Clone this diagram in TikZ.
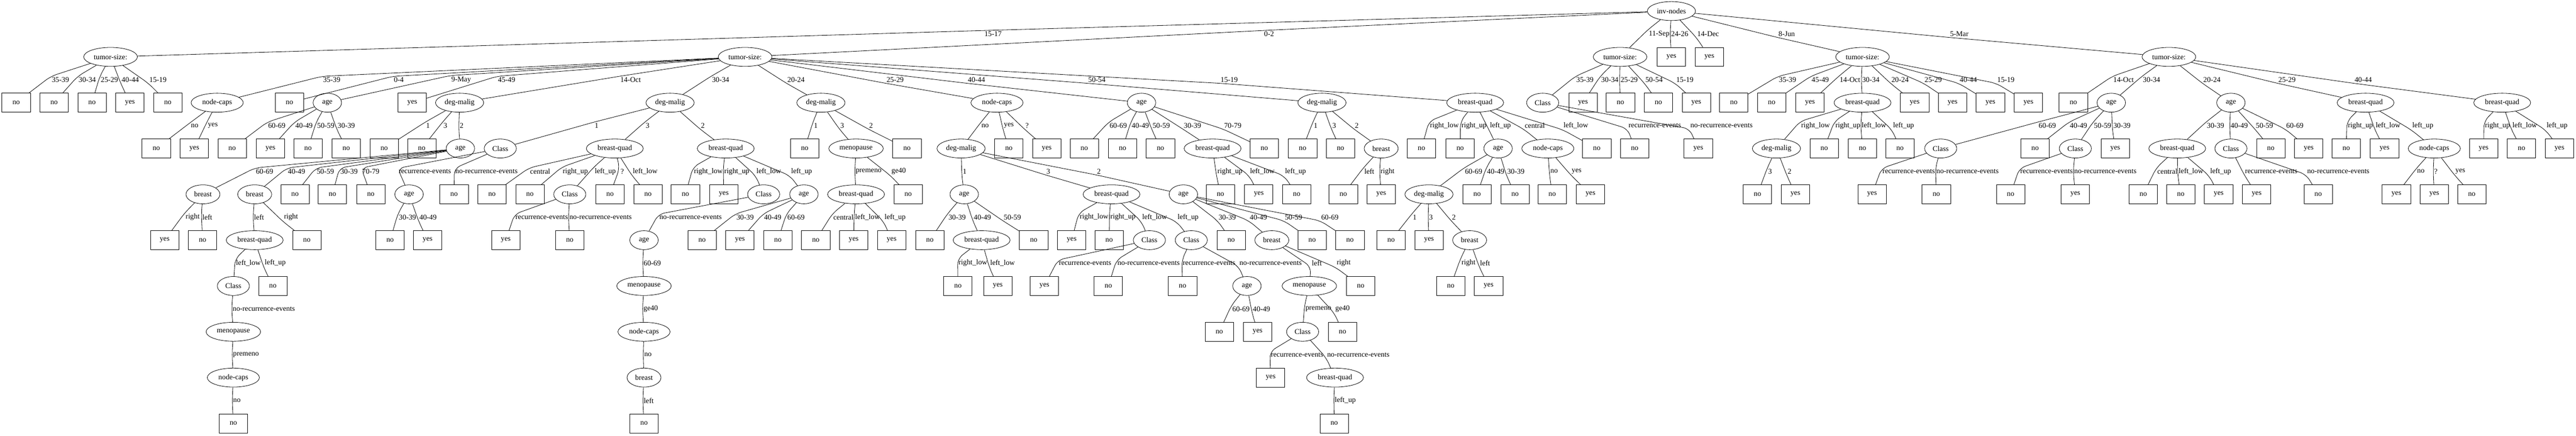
\documentclass[tikz,border=0pt]{standalone}
\usepackage{fontspec}
\setmainfont{Liberation Serif}
\usetikzlibrary{shapes.geometric, calc}

\tikzset{
  attr/.style = {draw, ellipse, minimum height=36pt, inner sep=0pt},
  tsize/.style = {attr, minimum width=102pt},
  invn/.style = {attr, minimum width=91.5pt},
  agen/.style = {attr, minimum width=54pt},
  dmal/.style = {attr, minimum width=91.5pt},
  ncaps/.style = {attr, minimum width=99pt},
  bquad/.style = {attr, minimum width=108pt},
  clss/.style = {attr, minimum width=61pt},
  brst/.style = {attr, minimum width=64.5pt},
  meno/.style = {attr, minimum width=103.5pt},
  leaf/.style = {draw, rectangle, minimum width=54pt, minimum height=36pt, inner sep=0pt},
  elabel/.style = {inner sep=1.5pt}
}

\begin{document}
\begin{tikzpicture}[x=0.75pt, y=-87pt, line width=0.8pt,
    font=\fontsize{14pt}{16pt}\selectfont]
  \useasboundingbox (0,-0.2414) rectangle (6524,9.2672);

  % tests
  \node[invn] (t) at (4233,0) {inv-nodes};
  \foreach \nm/\px/\rw in {a/280/1, b/1887/1, c/4103/1, d/4717/1, e/5493/1}
    \node[tsize] (\nm) at (\px,\rw) {tumor-size:};
  \foreach \nm/\px/\rw in {b3/829/2, b9/2891/2, e2/5347/2, e3/5650/2, b5c/1166/3,
      b11c/3794/3, b6a1/1036/4, b6c4/2036/4, b8a1/2442/4, b8a3/2997/4,
      b6c3a/1631/5, b8a2d2/3158/6}
    \node[agen] (\nm) at (\px,\rw) {age};
  \foreach \nm/\px/\rw in {b5/1164/2, b6/1697/2, b7/2079/2, b10/3348/2, b8a/2434/3,
      d4a/4499/3, b11c1/3619/4}
    \node[dmal] (\nm) at (\px,\rw) {deg-malig};
  \foreach \nm/\px/\rw in {b1/550/2, b8/2525/2, b11d/3920/3, e4c/6165/3, n2/1631/7, m1/591/8}
    \node[ncaps] (\nm) at (\px,\rw) {node-caps};
  \foreach \nm/\px/\rw in {b11/3736/2, d4/4717/2, e4/5991/2, e5/6337/2, b6b/1557/3,
      b6c/1838/3, b9d/3071/3, e3a/5514/3, b7b1/2168/4, b8a2/2815/4, b5c2a/645/5,
      b8a1b/2486/5, q3/3381/8}
    \node[bquad] (\nm) at (\px,\rw) {breast-quad};
  \foreach \nm/\px/\rw in {c1/3907/2, b6a/1267/3, e2a/4915/3, e2c/5256/3, e3b/5650/3,
      b6b3/1443/4, b6c3/1934/4, b8a2c/2911/5, b8a2d/3017/5, k1/591/6, k3/3299/7}
    \node[clss] (\nm) at (\px,\rw) {Class};
  \foreach \nm/\px/\rw in {b10c/3498/3, b5c1/514/4, b5c2/645/4, b8a3b/3221/5,
      b11c1c/3722/5, br2/1631/8}
    \node[brst] (\nm) at (\px,\rw) {breast};
  \foreach \nm/\px/\rw in {b7b/2168/3, mp2/1631/6, mp3/3316/6, mp1/591/7}
    \node[meno] (\nm) at (\px,\rw) {menopause};

  % leaves
  \foreach \nm/\px/\rw in {a1/41/2, a2/137/2, a3/233/2, a5/425/2, b2/733/2, c3/4104/2,
      c4/4200/2, d1/4391/2, d2/4487/2, e1/5251/2,
      b1a/396/3, b3a/588/3, b3c/780/3, b3d/877/3, b5a/973/3, b5b/1068/3, b7a/2038/3,
      b7c/2297/3, b8b/2555/3, b9a/2746/3, b9b/2843/3, b9c/2939/3, b9e/3202/3,
      b10a/3299/3, b10b/3395/3, b11a/3600/3, b11b/3698/3, b11e/4044/3, c1a/4140/3,
      d4b/4620/3, d4c/4717/3, d4d/4812/3, e2b/5154/3, e3c/5751/3, e4a/5942/3, e5b/6386/3,
      b5c3/747/4, b5c4/842/4, b5c5/939/4, b6a2/1150/4, b6b1/1246/4, b6b2/1342/4,
      b6b4/1545/4, b6b5/1641/4, b6c1/1736/4, b7b2/2300/4, b9d1/3091/4, b9d3/3284/4,
      b10c1/3402/4, b11c2/3741/4, b11c3/3837/4, b11d1/3931/4, d4a1/4451/4, e2a2/4904/4,
      e2c1/5092/4, e3a1/5428/4, e3a2/5523/4, e3b2/5871/4, e4c3/6260/4,
      b5c1b/513/5, b5c2b/777/5, b6a1a/988/5, b6b3b/1443/5, b6c4a/1778/5, b6c4c/1970/5,
      b7b1a/2066/5, b8a1a/2355/5, b8a1c/2618/5, b8a2b/2809/5, b8a3a/3118/5,
      b8a3c/3323/5, b8a3d/3419/5, b11c1a/3523/5,
      b5c2a2/691/6, b8a1b1/2426/6, b8a2c2/2807/6, b8a2d1/2995/6, b8a3b2/3446/6,
      b11c1c1/3674/6, b8a2d2a/3088/7, mp3b/3400/7, z1/591/9, z2/1631/9, z3/3379/9}
    \node[leaf] (\nm) at (\px,\rw) {no};
  \foreach \nm/\px/\rw in {y1/4233/1, y2/4329/1,
      a4/329/2, b4/1044/2, c2/4009/2, c5/4296/2, d3/4584/2, d5/4849/2, d6/4945/2,
      d7/5041/2, d8/5137/2,
      b1b/492/3, b3b/685/3, b8c/2651/3, c1b/4301/3, e2d/5357/3, e3d/5847/3, e4b/6039/3,
      e5a/6290/3, e5c/6482/3,
      b6c2/1833/4, b9d2/3188/4, b10c2/3498/4, b11d2/4028/4, d4a2/4547/4, e2a1/4741/4,
      e2c2/5256/4, e3a3/5619/4, e3b1/5715/4, e4c1/6069/4, e4c2/6165/4,
      b5c1a/417/5, b6a1b/1083/5, b6b3a/1281/5, b6c4b/1874/5, b7b1b/2162/5, b7b1c/2258/5,
      b8a2a/2714/5, b11c1b/3619/5,
      b8a1b2/2527/6, b8a2c1/2645/6, b11c1c2/3770/6, b8a2d2b/3185/7, k3a/3218/8}
    \node[leaf] (\nm) at (\px,\rw) {yes};

  % branches: parent/child/label x/label
  \foreach \pa/\ch/\lx/\lt in {
      t/a/2515/15-17, t/b/3214/0-2, t/c/4202/11-Sep, t/y1/4254/24-26,
      t/y2/4326/14-Dec, t/d/4525/8-Jun, t/e/4962/5-Mar,
      a/a1/153/35-39, a/a2/221/30-34, a/a3/277/25-29, a/a4/330/40-44, a/a5/400/15-19,
      b/b1/840/35-39, b/b2/1010/0-4, b/b3/1168/9-May, b/b4/1283/45-49,
      b/b5/1597/14-Oct, b/b6/1825/30-34, b/b7/2016/20-24, b/b8/2267/25-29,
      b/b9/2473/40-44, b/b10/2778/50-54, b/b11/3113/15-19,
      c/c1/4014/35-39, c/c2/4077/30-34, c/c3/4126/25-29, c/c4/4189/50-54, c/c5/4267/15-19,
      d/d1/4527/35-39, d/d2/4610/45-49, d/d3/4685/14-Oct, d/d4/4738/30-34,
      d/d5/4812/20-24, d/d6/4896/25-29, d/d7/4985/40-44, d/d8/5080/15-19,
      e/e1/5378/14-Oct, e/e2/5449/30-34, e/e3/5602/20-24, e/e4/5792/25-29, e/e5/5985/40-44,
      b1/b1a/493/no, b1/b1b/539/yes,
      b3/b3a/701/60-69, b3/b3b/770/40-49, b3/b3c/825/50-59, b3/b3d/877/30-39,
      b5/b5a/1084/1, b5/b5b/1128/3, b5/b5c/1169/2,
      b6/b6a/1511/1, b6/b6b/1640/3, b6/b6c/1780/2,
      b7/b7a/2066/1, b7/b7b/2133/3, b7/b7c/2206/2,
      b8/b8a/2495/no, b8/b8b/2555/yes, b8/b8c/2601/?,
      b9/b9a/2832/60-69, b9/b9b/2888/40-49, b9/b9c/2941/50-59, b9/b9d/3020/30-39,
      b9/b9e/3122/70-79,
      b10/b10a/3332/1, b10/b10b/3379/3, b10/b10c/3436/2,
      b11/b11a/3658/right\_low, b11/b11b/3733/right\_up, b11/b11c/3800/left\_up,
      b11/b11d/3887/central, b11/b11e/3991/left\_low,
      c1/c1a/4191/recurrence-events, c1/c1b/4360/no-recurrence-events,
      d4/d4a/4598/right\_low, d4/d4b/4680/right\_up, d4/d4c/4746/left\_low,
      d4/d4d/4821/left\_up,
      e2/e2a/5185/60-69, e2/e2b/5264/40-49, e2/e2c/5325/50-59, e2/e2d/5374/30-39,
      e3/e3a/5611/30-39, e3/e3b/5671/40-49, e3/e3c/5735/50-59, e3/e3d/5812/60-69,
      e4/e4a/5978/right\_up, e4/e4b/6048/left\_low, e4/e4c/6136/left\_up,
      e5/e5a/6325/right\_up, e5/e5b/6394/left\_low, e5/e5c/6476/left\_up,
      b5c/b5c1/670/60-69, b5c/b5c2/751/40-49, b5c/b5c3/824/50-59, b5c/b5c4/884/30-39,
      b5c/b5c5/939/70-79,
      b6a/b6a1/1076/recurrence-events, b6a/b6a2/1232/no-recurrence-events,
      b6b/b6b1/1368/central, b6b/b6b2/1457/right\_up, b6b/b6b3/1533/left\_up,
      b6b/b6b4/1576/?, b6b/b6b5/1634/left\_low,
      b6c/b6c1/1794/right\_low, b6c/b6c2/1866/right\_up, b6c/b6c3/1947/left\_low,
      b6c/b6c4/2030/left\_up,
      b7b/b7b1/2200/premeno, b7b/b7b2/2276/ge40,
      b8a/b8a1/2443/1, b8a/b8a2/2655/3, b8a/b8a3/2783/2,
      b9d/b9d1/3115/right\_up, b9d/b9d2/3197/left\_low, b9d/b9d3/3281/left\_up,
      b10c/b10c1/3468/left, b10c/b10c2/3514/right,
      b11c/b11c1/3732/60-69, b11c/b11c2/3788/40-49, b11c/b11c3/3839/30-39,
      b11d/b11d1/3936/no, b11d/b11d2/3993/yes,
      d4a/d4a1/4483/3, d4a/d4a2/4532/2,
      e2a/e2a1/4834/recurrence-events, e2a/e2a2/4983/no-recurrence-events,
      e2c/e2c1/5183/recurrence-events, e2c/e2c2/5332/no-recurrence-events,
      e3a/e3a1/5489/central, e3a/e3a2/5549/left\_low, e3a/e3a3/5624/left\_up,
      e3b/e3b1/5752/recurrence-events, e3b/e3b2/5922/no-recurrence-events,
      e4c/e4c1/6131/no, e4c/e4c2/6169/?, e4c/e4c3/6231/yes,
      b5c1/b5c1a/488/right, b5c1/b5c1b/525/left,
      b5c2/b5c2a/656/left, b5c2/b5c2b/737/right,
      b6a1/b6a1a/1032/30-39, b6a1/b6a1b/1084/40-49,
      b6b3/b6b3a/1372/recurrence-events, b6b3/b6b3b/1521/no-recurrence-events,
      b6c3/b6c3a/1749/no-recurrence-events,
      b6c4/b6c4a/1887/30-39, b6c4/b6c4b/1957/40-49, b6c4/b6c4c/2016/60-69,
      b7b1/b7b1a/2136/central, b7b1/b7b1b/2197/left\_low, b7b1/b7b1c/2267/left\_up,
      b8a1/b8a1a/2424/30-39, b8a1/b8a1b/2488/40-49, b8a1/b8a1c/2564/50-59,
      b8a2/b8a2a/2771/right\_low, b8a2/b8a2b/2844/right\_up, b8a2/b8a2c/2924/left\_low,
      b8a2/b8a2d/3009/left\_up,
      b8a3/b8a3a/3108/30-39, b8a3/b8a3b/3187/40-49, b8a3/b8a3c/3276/50-59,
      b8a3/b8a3d/3368/60-69,
      b11c1/b11c1a/3583/1, b11c1/b11c1b/3624/3, b11c1/b11c1c/3682/2,
      b5c2a/k1/629/left\_low, b5c2a/b5c2a2/697/left\_up,
      b6c3a/mp2/1652/60-69,
      b8a1b/b8a1b1/2464/right\_low, b8a1b/b8a1b2/2539/left\_low,
      b8a2c/b8a2c1/2748/recurrence-events, b8a2c/b8a2c2/2909/no-recurrence-events,
      b8a2d/b8a2d1/3062/recurrence-events, b8a2d/b8a2d2/3218/no-recurrence-events,
      b8a3b/mp3/3335/left, b8a3b/b8a3b2/3403/right,
      b11c1c/b11c1c1/3719/right, b11c1c/b11c1c2/3761/left,
      k1/mp1/668/no-recurrence-events, mp2/n2/1648/ge40,
      b8a2d2/b8a2d2a/3143/60-69, b8a2d2/b8a2d2b/3195/40-49,
      mp3/k3/3339/premeno, mp3/mp3b/3400/ge40,
      mp1/m1/623/premeno, n2/br2/1641/no,
      k3/k3a/3285/recurrence-events, k3/q3/3440/no-recurrence-events,
      m1/z1/600/no, br2/z2/1643/left, q3/z3/3407/left\_up}{
    \path let \p1 = ($(\pa)!0.5!(\ch)$), \p2 = (\lx,0) in
      node[elabel] (l\ch) at (\x2,\y1) {\lt};
    \draw[rounded corners=12pt] let \p1 = (\pa), \p2 = (\ch),
        \p3 = (l\ch.north west), \p4 = (l\ch.south west),
        \n1 = {sign(\x2-\x1)*(\y3-\y4)/2} in
      (\pa) -- (\x3,{(\y3+\y4)/2-\n1}) -- (\ch);
  }
\end{tikzpicture}
\end{document}
